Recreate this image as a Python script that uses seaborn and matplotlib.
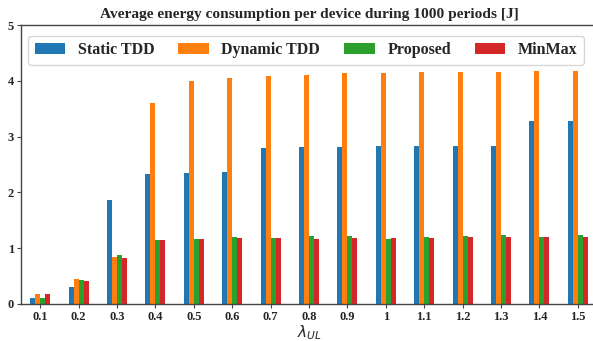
import matplotlib
matplotlib.use("Agg")
import matplotlib.pyplot as plt
import seaborn as sns
import pandas as pd

lambdas = ["0.1", "0.2", "0.3", "0.4", "0.5", "0.6", "0.7", "0.8",
           "0.9", "1", "1.1", "1.2", "1.3", "1.4", "1.5"]
static_tdd = [0.10, 0.31, 1.86, 2.33, 2.35, 2.37, 2.80, 2.81, 2.81, 2.83, 2.83, 2.83, 2.83, 3.28, 3.28]
dynamic_tdd = [0.18, 0.45, 0.84, 3.60, 4.00, 4.05, 4.09, 4.10, 4.14, 4.14, 4.16, 4.16, 4.16, 4.18, 4.18]
proposed = [0.10, 0.43, 0.88, 1.15, 1.16, 1.20, 1.18, 1.22, 1.22, 1.16, 1.20, 1.22, 1.24, 1.20, 1.24]
minmax = [0.18, 0.41, 0.82, 1.15, 1.16, 1.18, 1.18, 1.16, 1.18, 1.18, 1.18, 1.20, 1.20, 1.20, 1.20]
series_names = ["Static TDD", "Dynamic TDD", "Proposed", "MinMax"]
colors = ["#1f77b4", "#ff7f0e", "#2ca02c", "#d62728"]

rows = []
for name, vals in zip(series_names, [static_tdd, dynamic_tdd, proposed, minmax]):
    for lam, v in zip(lambdas, vals):
        rows.append({"lambda": lam, "value": v, "method": name})
df = pd.DataFrame(rows)

sns.set_style("white")
plt.rcParams["font.family"] = ["Liberation Serif", "DejaVu Serif"]
plt.rcParams["mathtext.fontset"] = "dejavusans"

fig = plt.figure(figsize=(5.93, 3.41), dpi=100)
ax = fig.add_axes([21 / 593, 1 - 304 / 341, 576 / 593, (304 - 25) / 341])

sns.barplot(data=df, x="lambda", y="value", hue="method", order=lambdas,
            hue_order=series_names, palette=colors, width=0.52,
            saturation=1, ax=ax, legend=True, linewidth=0, edgecolor="none",
            gap=0)

ax.set_xlim(-0.5, len(lambdas) - 0.5)
ax.set_ylim(0, 5)
ax.set_yticks([0, 1, 2, 3, 4, 5])
ax.set_ylabel("")
ax.set_xlabel(r"$\lambda_{UL}$", fontsize=11, labelpad=0,
              fontfamily="DejaVu Sans")
ax.set_title("Average energy consumption per device during 1000 periods [J]",
             fontsize=11.1, fontweight="bold", pad=5)

for lbl in ax.get_xticklabels() + ax.get_yticklabels():
    lbl.set_fontweight("bold")
    lbl.set_fontsize(9)
ax.tick_params(axis="both", which="both", length=3, width=0.8,
               color="#444444", pad=2, bottom=True, left=True)

for side in ["left", "bottom", "top"]:
    ax.spines[side].set_visible(True)
    ax.spines[side].set_color("#444444")
    ax.spines[side].set_linewidth(1.0)
ax.spines["right"].set_visible(False)

handles, labels = ax.get_legend_handles_labels()
ax.legend(handles, labels, ncol=4, loc="upper center",
          bbox_to_anchor=(0.495, 0.99), frameon=True, fancybox=True,
          edgecolor="#cccccc", handlelength=1.9, handleheight=0.7,
          columnspacing=1.5, handletextpad=0.8,
          prop={"weight": "bold", "size": 11.5}, borderpad=0.4,
          borderaxespad=0.5)

fig.savefig("out.png", dpi=100)
